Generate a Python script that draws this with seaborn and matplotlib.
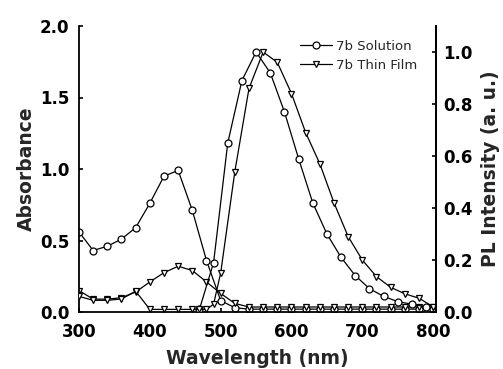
import numpy as np
import pandas as pd
import matplotlib
matplotlib.use("Agg")
import matplotlib.pyplot as plt
import seaborn as sns

# Absorbance, solution (circles, left axis)
abs_sol_wl = [300, 320, 340, 360, 380, 400, 420, 440, 460, 480, 500, 520, 540, 560, 580, 600,
              620, 640, 660, 680, 700, 720, 740, 760, 780, 800]
abs_sol_val = [0.56, 0.43, 0.46, 0.51, 0.59, 0.76, 0.95, 0.99, 0.71, 0.36, 0.08, 0.03, 0.02, 0.02,
               0.02, 0.02, 0.02, 0.02, 0.02, 0.02, 0.02, 0.02, 0.02, 0.02, 0.02, 0.02]

# Absorbance, thin film (triangles, left axis)
abs_film_wl = [300, 320, 340, 360, 380, 400, 420, 440, 460, 480, 500, 520, 540, 560, 580, 600,
               620, 640, 660, 680, 700, 720, 740, 760, 780, 800]
abs_film_val = [0.15, 0.09, 0.09, 0.10, 0.14, 0.21, 0.275, 0.32, 0.29, 0.21, 0.13, 0.06, 0.035,
                0.035, 0.035, 0.035, 0.035, 0.035, 0.035, 0.035, 0.035, 0.035, 0.035, 0.035,
                0.035, 0.035]

# PL, solution (circles, right axis)
pl_sol_wl = [470, 490, 510, 530, 550, 570, 590, 610, 630, 650, 670, 690, 710, 730, 750, 770, 790]
pl_sol_val = [0.01, 0.19, 0.65, 0.89, 1.0, 0.92, 0.77, 0.59, 0.42, 0.30, 0.21, 0.14, 0.09, 0.06,
              0.04, 0.03, 0.02]

# PL, thin film (triangles, right axis)
pl_film_wl = [300, 320, 340, 360, 380, 400, 420, 440, 460, 470, 480, 490, 500, 520, 540, 560,
              580, 600, 620, 640, 660, 680, 700, 720, 740, 760, 780, 800]
pl_film_val = [0.06, 0.045, 0.045, 0.05, 0.08, 0.01, 0.01, 0.01, 0.01, 0.01, 0.01, 0.03, 0.15,
               0.54, 0.86, 1.0, 0.96, 0.84, 0.69, 0.57, 0.42, 0.29, 0.20, 0.136, 0.095, 0.07,
               0.053, 0.02]

legend_labels = ["7b Solution", "7b Thin Film"]

sns.set_style("ticks")
plt.rcParams['font.family'] = ['DejaVu Sans']

fig = plt.figure(figsize=(5.03, 3.69), dpi=100)
ax = fig.add_axes([79 / 503, 1 - 312 / 369, (436 - 79) / 503, (312 - 26) / 369])
ax2 = ax.twinx()

common = dict(color='black', linewidth=0.9, markersize=5, markerfacecolor='white',
              markeredgecolor='black', markeredgewidth=0.9)

sns.lineplot(x=abs_sol_wl, y=abs_sol_val, ax=ax, marker='o', **common)
sns.lineplot(x=abs_film_wl, y=abs_film_val, ax=ax, marker='v', **common)
sns.lineplot(x=pl_sol_wl, y=pl_sol_val, ax=ax2, marker='o', label=legend_labels[0], **common)
sns.lineplot(x=pl_film_wl, y=pl_film_val, ax=ax2, marker='v', label=legend_labels[1], **common)

ax.set_xlim(300, 804)
ax.set_ylim(0, 2.0)
ax2.set_ylim(0, 1.1)
ax.set_xticks([300, 400, 500, 600, 700, 800])
ax.set_yticks([0.0, 0.5, 1.0, 1.5, 2.0])
ax2.set_yticks([0.0, 0.2, 0.4, 0.6, 0.8, 1.0])
ax.set_yticklabels(["0.0", "0.5", "1.0", "1.5", "2.0"])
ax2.set_yticklabels(["0.0", "0.2", "0.4", "0.6", "0.8", "1.0"])

for a in (ax, ax2):
    a.spines['top'].set_visible(False)
    for s in a.spines.values():
        s.set_linewidth(1.3)
        s.set_color('black')
    a.tick_params(direction='in', length=3, width=1.2, labelsize=12, colors='black')
    for lab in a.get_xticklabels() + a.get_yticklabels():
        lab.set_fontweight('bold')
ax.tick_params(axis='y', pad=7)
ax.tick_params(axis='x', pad=8)
ax2.tick_params(axis='y', pad=5)
ax.spines['right'].set_visible(True)
ax2.spines['right'].set_visible(True)
ax2.spines['left'].set_visible(False)
ax2.spines['bottom'].set_visible(False)

ax.set_xlabel("Wavelength (nm)", fontsize=13.5, fontweight='bold', labelpad=6)
ax.set_ylabel("Absorbance", fontsize=13.5, fontweight='bold', labelpad=3)
ax2.set_ylabel("PL Intensity (a. u.)", fontsize=13.5, fontweight='bold', labelpad=6)

leg = ax2.legend(loc='upper left', bbox_to_anchor=(300 / 503, 1 - 40 / 369),
                 bbox_transform=fig.transFigure, frameon=False, fontsize=9.5,
                 handlelength=2.4, handletextpad=0.3, labelspacing=0.45,
                 borderpad=0, borderaxespad=0)

fig.savefig("out.png", dpi=100)
